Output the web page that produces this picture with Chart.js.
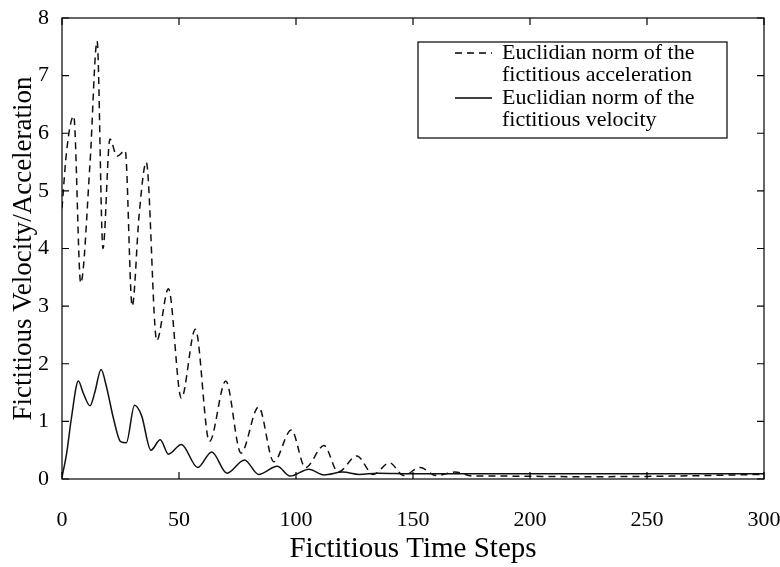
<!DOCTYPE html>
<html>
<head>
<meta charset="utf-8">
<script src="https://cdn.jsdelivr.net/npm/chart.js@4"></script>
<style>
  html, body { margin: 0; padding: 0; background: #fff; }
  #wrap { width: 780px; height: 567px; }
</style>
</head>
<body>
<div id="wrap"><canvas id="myChart" width="780" height="567"></canvas></div>
<script>
// acceleration norm (dashed)
let accTime = [0, 2, 5, 8, 12, 15, 17.5, 20.5, 23.5, 27, 30, 33, 36, 40.5, 45.5, 51, 57, 63, 70, 76.5, 84, 90.5, 98, 104, 112, 118, 126, 133, 140, 146, 153, 160, 168, 176, 190, 220, 260, 300];
let accValues = [4.7, 5.7, 6.3, 3.4, 5.5, 7.6, 4.0, 5.9, 5.6, 5.7, 3.0, 4.6, 5.5, 2.4, 3.3, 1.4, 2.6, 0.65, 1.7, 0.45, 1.25, 0.3, 0.85, 0.2, 0.58, 0.12, 0.4, 0.08, 0.28, 0.06, 0.2, 0.06, 0.12, 0.05, 0.05, 0.04, 0.05, 0.08];

// velocity norm (solid)
let velTime = [0, 2, 4, 7, 9, 12, 14, 16.7, 19, 22, 25, 27.5, 31, 34, 38, 42, 45.5, 51, 58, 64, 70.5, 78, 84, 92, 97.5, 105.5, 112, 120, 127, 135, 150, 200, 250, 300];
let velValues = [0.03, 0.45, 1.05, 1.7, 1.5, 1.27, 1.5, 1.9, 1.6, 1.05, 0.65, 0.63, 1.28, 1.1, 0.5, 0.68, 0.43, 0.6, 0.2, 0.47, 0.1, 0.33, 0.08, 0.22, 0.05, 0.17, 0.07, 0.12, 0.08, 0.1, 0.09, 0.09, 0.09, 0.09];

let legendLines = [
    ['Euclidian norm of the', 'fictitious acceleration'],
    ['Euclidian norm of the', 'fictitious velocity']
];

let serif = '"Liberation Serif", "Times New Roman", serif';

function toPoints(xs, ys) {
    return xs.map((x, i) => ({ x: x, y: ys[i] }));
}

// MATLAB style box with inward ticks on all four sides
let boxTicks = {
    id: 'boxTicks',
    afterDatasetsDraw(chart) {
        let ctx = chart.ctx;
        let a = chart.chartArea;
        let len = 7;
        ctx.save();
        ctx.strokeStyle = '#000';
        ctx.lineWidth = 1.2;
        ctx.strokeRect(a.left, a.top, a.right - a.left, a.bottom - a.top);
        ctx.beginPath();
        chart.scales.x.ticks.forEach(t => {
            let px = chart.scales.x.getPixelForValue(t.value);
            ctx.moveTo(px, a.bottom); ctx.lineTo(px, a.bottom - len);
            ctx.moveTo(px, a.top); ctx.lineTo(px, a.top + len);
        });
        chart.scales.y.ticks.forEach(t => {
            let py = chart.scales.y.getPixelForValue(t.value);
            ctx.moveTo(a.left, py); ctx.lineTo(a.left + len, py);
            ctx.moveTo(a.right, py); ctx.lineTo(a.right - len, py);
        });
        ctx.stroke();
        ctx.restore();
    }
};

// two-line legend in a box, top right
let boxLegend = {
    id: 'boxLegend',
    afterDraw(chart) {
        let ctx = chart.ctx;
        let x0 = 418, y0 = 42, w = 309, h = 96;
        ctx.save();
        ctx.fillStyle = '#fff';
        ctx.fillRect(x0, y0, w, h);
        ctx.strokeStyle = '#000';
        ctx.lineWidth = 1.2;
        ctx.strokeRect(x0, y0, w, h);
        ctx.font = '22px ' + serif;
        ctx.fillStyle = '#000';
        ctx.textBaseline = 'middle';
        chart.data.datasets.forEach((ds, i) => {
            let yl = y0 + 11 + i * 45;
            ctx.beginPath();
            ctx.setLineDash(ds.borderDash || []);
            ctx.lineWidth = ds.borderWidth;
            ctx.moveTo(455, yl);
            ctx.lineTo(492, yl);
            ctx.stroke();
            ctx.setLineDash([]);
            legendLines[i].forEach((line, j) => {
                ctx.fillText(line, 502, yl + j * 22);
            });
        });
        ctx.restore();
    }
};

let myChart = document.getElementById('myChart').getContext('2d');

let chart = new Chart(myChart, {
    type: 'line',
    data: {
        datasets: [{
            label: 'Euclidian norm of the fictitious acceleration',
            data: toPoints(accTime, accValues),
            borderColor: '#111',
            borderWidth: 1.5,
            borderDash: [7, 5],
            pointRadius: 0,
            cubicInterpolationMode: 'monotone',
            fill: false
        }, {
            label: 'Euclidian norm of the fictitious velocity',
            data: toPoints(velTime, velValues),
            borderColor: '#111',
            borderWidth: 1.5,
            pointRadius: 0,
            cubicInterpolationMode: 'monotone',
            fill: false
        }]
    },
    options: {
        responsive: false,
        animation: false,
        layout: {
            padding: { top: 18, right: 16, left: 0, bottom: 0 }
        },
        plugins: {
            legend: { display: false },
            tooltip: { enabled: false }
        },
        scales: {
            x: {
                type: 'linear',
                min: 0,
                max: 300,
                grid: { display: false },
                border: { display: false },
                ticks: {
                    stepSize: 50,
                    maxRotation: 0,
                    padding: 20,
                    color: '#000',
                    font: { family: serif, size: 22 }
                },
                title: {
                    display: true,
                    text: 'Fictitious Time Steps',
                    color: '#000',
                    padding: 0,
                    font: { family: serif, size: 29 }
                },
                afterFit(scale) {
                    scale.height = 88;
                    scale.paddingLeft = 0;
                    scale.paddingRight = 0;
                }
            },
            y: {
                min: 0,
                max: 8,
                grid: { display: false },
                border: { display: false },
                ticks: {
                    stepSize: 1,
                    padding: 5,
                    color: '#000',
                    font: { family: serif, size: 22 }
                },
                title: {
                    display: true,
                    text: 'Fictitious Velocity/Acceleration',
                    color: '#000',
                    padding: { top: 8, bottom: 0 },
                    font: { family: serif, size: 27 }
                },
                afterFit(scale) {
                    scale.width = 62;
                    scale.paddingTop = 0;
                    scale.paddingBottom = 0;
                }
            }
        }
    },
    plugins: [boxTicks, boxLegend]
});
</script>
</body>
</html>
